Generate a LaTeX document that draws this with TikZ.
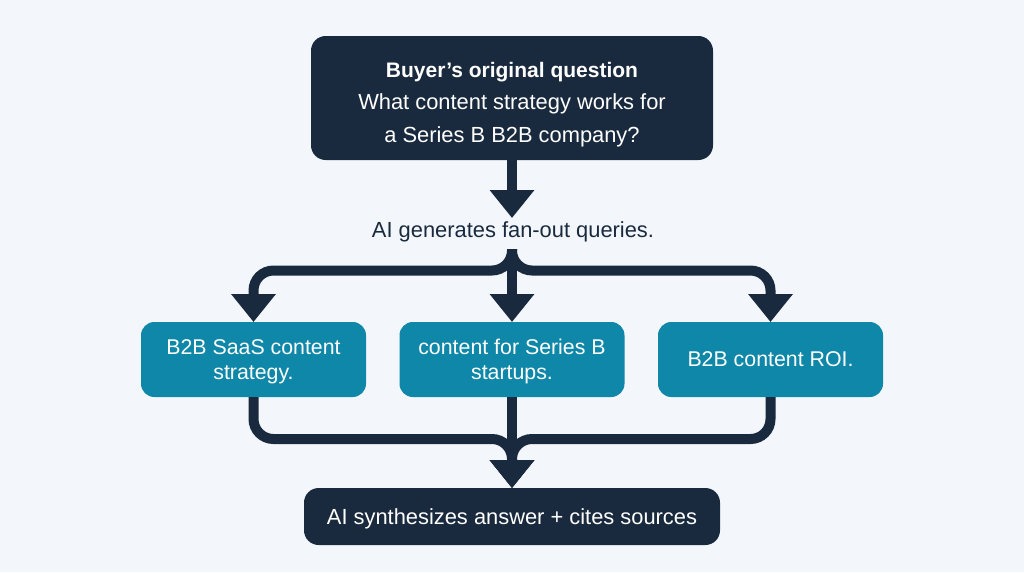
\documentclass[tikz,border=0pt]{standalone}
\usepackage{fontspec}
\setmainfont{Liberation Sans}
\usetikzlibrary{arrows.meta}
\definecolor{pagebg}{HTML}{F3F7FB}
\definecolor{navy}{HTML}{1A2A3E}
\definecolor{teal}{HTML}{0E87A8}
\tikzset{
  darkbox/.style={fill=navy, text=white, rounded corners=11pt, outer sep=0pt, inner sep=0pt, align=center},
  querybox/.style={fill=teal, text=white, rounded corners=10pt, outer sep=0pt, inner sep=0pt, align=center,
    minimum width=168.75pt, minimum height=56.25pt, font=\fontsize{16}{19}\selectfont},
  flow/.style={draw=navy, line width=7.5pt, rounded corners=15pt,
    -{Triangle[width=32.25pt,length=21pt,fill=navy]}}
}
\begin{document}
\begin{tikzpicture}[x=0.75pt, y=-0.75pt, font=\fontsize{16.4}{24.5}\selectfont]
  \useasboundingbox (0,0) rectangle (1024,572);
  \fill[pagebg] (0,0) rectangle (1024,572);
  % Boxes
  \node[darkbox, minimum width=301.5pt, minimum height=93pt] (question) at (512,98)
    {\rule{0pt}{21pt}{\fontsize{15.75}{24.5}\selectfont\textbf{Buyer’s original question}}\\What content strategy works for\\a Series B B2B company?};
  \node[text=navy, inner sep=0pt] (fanout) at (513,232) {AI generates fan-out queries.};
  \node[querybox] (saas) at (253.5,359.5) {\rule{0pt}{15pt}B2B SaaS content\\strategy.};
  \node[querybox] (series) at (512,359.5) {\rule{0pt}{15pt}content for Series B\\startups.};
  \node[querybox] (roi) at (770.5,359.5) {B2B content ROI.};
  \node[darkbox, minimum width=312pt, minimum height=42.75pt] (answer) at (512,516.5)
    {\rule{0pt}{16pt}AI synthesizes answer + cites sources};
  % Helpers for the bars
  \coordinate (split) at (512,249);
  \coordinate (splitleft) at (382,270.5);
  \coordinate (splitright) at (642,270.5);
  \coordinate (mergeleft) at (382,439);
  \coordinate (mergeright) at (642,439);
  % Arrows
  \draw[flow] (question.south) -- (512,218);
  \draw[flow] (split) -- (series.north);
  \draw[flow] (split) |- (splitleft) -| (saas.north);
  \draw[flow] (split) |- (splitright) -| (roi.north);
  \draw[flow] (saas.south) |- (mergeleft) -| (answer.north);
  \draw[flow] (series.south) -- (answer.north);
  \draw[flow] (roi.south) |- (mergeright) -| (answer.north);
\end{tikzpicture}
\end{document}
